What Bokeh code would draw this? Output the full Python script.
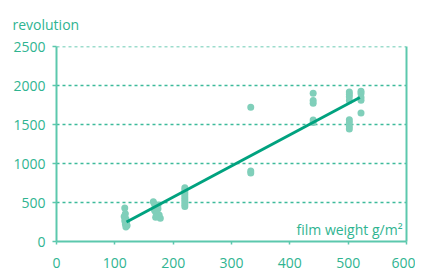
from bokeh.plotting import figure
from bokeh.models import Range1d, LinearAxis, FixedTicker, Label
from bokeh.embed import file_html
from bokeh.resources import INLINE

# data
weight = [117, 118, 116, 119, 117, 120, 118, 121, 119,
          166, 168, 170, 172, 174, 168, 170, 172, 176, 170, 174, 178,
          220, 220, 220, 220, 220, 220, 220, 220, 220,
          333, 333, 333,
          440, 440, 440, 440, 440,
          502, 502, 502, 502, 502, 502, 502, 502,
          522, 522, 522, 522, 522]
revs = [430, 355, 320, 290, 265, 245, 225, 205, 185,
        510, 480, 460, 440, 420, 400, 380, 360, 340, 310, 470, 300,
        690, 660, 630, 600, 570, 540, 510, 480, 450,
        1725, 905, 880,
        1905, 1810, 1775, 1560, 1530,
        1920, 1890, 1860, 1810, 1565, 1530, 1480, 1445,
        1930, 1900, 1850, 1815, 1650]
fit_x = [120, 520]
fit_y = [250, 1850]
x_ticks = [0, 100, 200, 300, 400, 500, 600]
y_ticks = [0, 500, 1000, 1500, 2000, 2500]
y_title = "revolution"
x_title = "film weight g/m²"

TEXT = "#2fb491"
AXIS = "#5cc8ad"
GRID = "#3dba9b"
FONT = "Open Sans"

p = figure(width=415, height=270, x_range=Range1d(0, 600), y_range=Range1d(0, 2505),
           output_backend="svg", toolbar_location=None, title=y_title,
           min_border_left=56, min_border_right=9, min_border_top=43, min_border_bottom=28)
p.outline_line_color = None
p.background_fill_color = "white"
p.border_fill_color = "white"

p.title.align = "left"
p.title.offset = -44
p.title.standoff = 25
p.title.text_color = TEXT
p.title.text_font = FONT
p.title.text_font_size = "14px"
p.title.text_font_style = "normal"

for ax in (p.xaxis[0], p.yaxis[0]):
    ax.axis_line_color = AXIS
    ax.axis_line_width = 2
    ax.major_tick_line_color = AXIS
    ax.major_tick_line_width = 1.5
    ax.major_tick_in = 0
    ax.minor_tick_line_color = None
    ax.major_label_text_color = TEXT
    ax.major_label_text_font = FONT
    ax.major_label_text_font_size = "14px"

p.xaxis[0].ticker = FixedTicker(ticks=x_ticks)
p.xaxis[0].major_tick_out = 3
p.xaxis[0].major_label_standoff = 13
p.xaxis[0].major_label_text_line_height = 0.6
p.yaxis[0].ticker = FixedTicker(ticks=y_ticks)
p.yaxis[0].major_tick_out = 4
p.yaxis[0].major_label_standoff = 7

right = LinearAxis(ticker=FixedTicker(ticks=[]), axis_line_color=AXIS, axis_line_width=2,
                   major_tick_line_color=None, minor_tick_line_color=None,
                   major_label_text_font_size="0px")
p.add_layout(right, "right")

p.xgrid.visible = False
p.ygrid.ticker = FixedTicker(ticks=y_ticks)
p.ygrid.grid_line_color = GRID
p.ygrid.grid_line_width = 1.5
p.ygrid.grid_line_dash = "3 3"

p.scatter(weight, revs, size=7, fill_color="#80cfba", line_color=None)
p.line(fit_x, fit_y, line_width=3, line_color="#00a27f")

p.add_layout(Label(x=600, y=0, x_offset=-4, y_offset=12, text=x_title,
                   text_align="right", text_baseline="alphabetic",
                   text_color=TEXT, text_font=FONT, text_font_size="14px"))

open("out.html", "w").write(file_html(p, INLINE))
